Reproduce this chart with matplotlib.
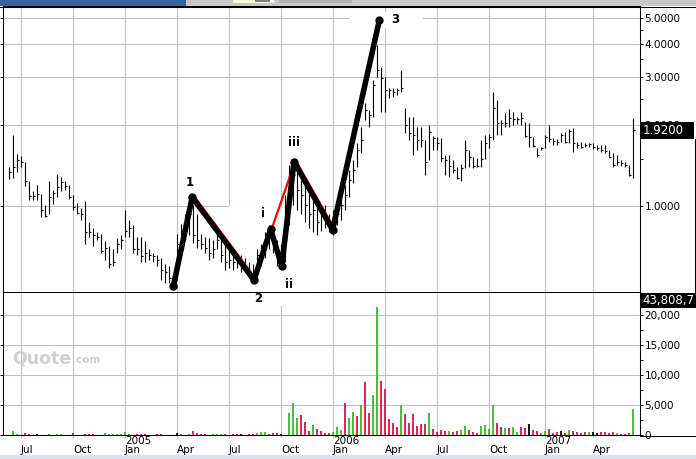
import numpy as np
import matplotlib.pyplot as plt
import matplotlib.transforms as mtransforms
from matplotlib.patches import Rectangle
from matplotlib.lines import Line2D
from matplotlib.ticker import FixedLocator, NullFormatter, FuncFormatter

plt.rcParams["font.family"] = ["DejaVu Sans"]

# weekly bars, mid 2004 .. mid 2007 (one entry per week)
high = [1.40, 1.83, 1.56, 1.53, 1.45, 1.24, 1.14, 1.20, 1.11, 1.01,
        1.24, 1.15, 1.31, 1.28, 1.24, 1.20, 1.10, 1.03, 0.98, 1.04,
        0.87, 0.83, 0.80, 0.79, 0.74, 0.71, 0.69, 0.76, 0.78, 0.97,
        0.89, 0.85, 0.77, 0.77, 0.74, 0.69, 0.67, 0.66, 0.64, 0.61,
        0.60, 0.56, 0.79, 0.86, 0.93, 1.01, 1.01, 0.93, 0.79, 0.77,
        0.76, 0.75, 0.81, 0.79, 0.77, 0.72, 0.69, 0.67, 0.66, 0.64,
        0.62, 0.61, 0.69, 0.72, 0.80, 0.85, 0.83, 0.75, 0.72, 1.10,
        1.42, 1.48, 1.34, 1.25, 1.27, 1.15, 1.10, 1.05, 1.01, 1.01,
        0.93, 0.97, 1.01, 1.10, 1.20, 1.36, 1.48, 1.71, 1.97, 2.41,
        2.27, 2.94, 3.96, 3.28, 3.01, 2.74, 2.74, 2.74, 3.20, 2.31,
        2.14, 2.14, 1.97, 1.97, 1.76, 2.00, 1.82, 1.80, 1.79, 1.55,
        1.55, 1.48, 1.40, 1.43, 1.76, 1.61, 1.52, 1.51, 1.76, 1.83,
        1.85, 2.65, 2.47, 2.09, 2.21, 2.29, 2.23, 2.14, 2.23, 2.05,
        2.03, 1.80, 1.64, 1.65, 1.83, 2.00, 1.79, 1.77, 1.87, 1.88,
        1.93, 1.95, 1.73, 1.73, 1.71, 1.71, 1.71, 1.68, 1.68, 1.68,
        1.61, 1.57, 1.55, 1.48, 1.46, 1.42, 2.12]
low = [1.26, 1.27, 1.34, 1.40, 1.19, 1.05, 1.05, 1.05, 0.91, 0.91,
       0.93, 1.02, 1.08, 1.14, 1.15, 1.06, 0.97, 0.93, 0.89, 0.72,
       0.77, 0.71, 0.75, 0.67, 0.63, 0.59, 0.60, 0.67, 0.69, 0.77,
       0.77, 0.67, 0.66, 0.62, 0.62, 0.63, 0.62, 0.60, 0.53, 0.52,
       0.52, 0.51, 0.53, 0.73, 0.75, 0.78, 0.73, 0.70, 0.69, 0.67,
       0.63, 0.64, 0.69, 0.62, 0.58, 0.59, 0.58, 0.59, 0.57, 0.57,
       0.54, 0.53, 0.57, 0.60, 0.64, 0.69, 0.67, 0.60, 0.59, 0.62,
       0.85, 1.01, 0.97, 0.93, 0.87, 0.83, 0.80, 0.78, 0.81, 0.83,
       0.80, 0.78, 0.85, 0.89, 0.97, 1.08, 1.22, 1.40, 1.57, 2.09,
       1.97, 2.14, 3.01, 2.23, 2.23, 2.52, 2.54, 2.58, 2.65, 1.87,
       1.76, 1.55, 1.61, 1.65, 1.30, 1.48, 1.61, 1.61, 1.46, 1.30,
       1.28, 1.33, 1.26, 1.24, 1.38, 1.40, 1.38, 1.40, 1.40, 1.49,
       1.64, 1.76, 1.83, 1.83, 1.97, 1.97, 2.00, 2.01, 2.00, 1.80,
       1.65, 1.65, 1.52, 1.61, 1.64, 1.73, 1.68, 1.68, 1.73, 1.71,
       1.71, 1.59, 1.64, 1.64, 1.65, 1.65, 1.63, 1.61, 1.59, 1.57,
       1.51, 1.40, 1.42, 1.41, 1.40, 1.29, 1.27]
close = [1.34, 1.39, 1.48, 1.45, 1.24, 1.09, 1.09, 1.11, 0.97, 0.92,
         1.08, 1.12, 1.18, 1.23, 1.19, 1.08, 0.99, 0.94, 0.93, 0.80,
         0.80, 0.78, 0.77, 0.68, 0.70, 0.61, 0.62, 0.72, 0.75, 0.81,
         0.83, 0.69, 0.69, 0.65, 0.67, 0.66, 0.65, 0.63, 0.58, 0.57,
         0.54, 0.53, 0.72, 0.81, 0.85, 0.93, 0.78, 0.75, 0.72, 0.70,
         0.67, 0.69, 0.75, 0.66, 0.62, 0.63, 0.62, 0.62, 0.60, 0.59,
         0.57, 0.57, 0.66, 0.69, 0.75, 0.80, 0.72, 0.64, 0.62, 1.01,
         1.25, 1.30, 1.15, 1.10, 1.01, 0.93, 0.97, 0.87, 0.93, 0.89,
         0.83, 0.85, 0.93, 1.01, 1.10, 1.25, 1.36, 1.61, 1.76, 2.27,
         2.18, 2.81, 3.20, 2.99, 2.69, 2.69, 2.65, 2.69, 2.74, 2.00,
         1.87, 1.83, 1.76, 1.76, 1.46, 1.88, 1.79, 1.71, 1.51, 1.48,
         1.41, 1.36, 1.27, 1.38, 1.61, 1.52, 1.41, 1.41, 1.49, 1.71,
         1.80, 2.31, 2.03, 2.03, 2.03, 2.12, 2.10, 2.10, 2.12, 1.82,
         1.80, 1.67, 1.55, 1.64, 1.80, 1.77, 1.74, 1.73, 1.83, 1.73,
         1.90, 1.71, 1.68, 1.66, 1.68, 1.70, 1.66, 1.64, 1.61, 1.60,
         1.52, 1.42, 1.46, 1.44, 1.42, 1.30, 1.92]
volume = [0, 720, 170, 0, 280, 170, 0, 100, 0, 0,
          170, 0, 170, 200, 0, 0, 280, 0, 0, 170,
          170, 110, 0, 0, 390, 170, 170, 170, 170, 440,
          110, 0, 170, 170, 170, 0, 0, 170, 170, 0,
          0, 0, 280, 170, 0, 170, 720, 330, 170, 170,
          0, 170, 170, 170, 170, 0, 170, 170, 170, 0,
          110, 170, 280, 440, 440, 170, 330, 330, 170, 0,
          3610, 5280, 2830, 3330, 2170, 720, 1670, 1060, 720, 390,
          390, 560, 1390, 830, 5280, 2890, 3890, 3170, 5000, 8900,
          3720, 6670, 21400, 9060, 7720, 2720, 2060, 1390, 5000, 3500,
          2060, 3500, 1500, 1830, 1830, 3720, 1000, 500, 830, 670,
          670, 500, 670, 830, 1500, 830, 500, 330, 1500, 1670,
          1060, 5000, 2000, 1390, 1170, 1170, 1390, 500, 1390, 1170,
          1830, 830, 720, 390, 720, 1000, 390, 500, 670, 390,
          830, 670, 500, 390, 500, 500, 500, 330, 500, 500,
          390, 500, 330, 170, 170, 330, 4330]
# g = up week, r = down week, k = unchanged
vol_dir = ("kggkrrkkkk" "gkggkkrkkr" "rrkkgggggg" "gkrrrkkrrk" "kkkrkgrrrr"
           "kgggrkrrkk" "rrgggrrrkk" "gggrrrgrrr" "rgggrggrgr" "rggrrrrrgr"
           "rrrrrgrrrr" "grrggrrrgg" "ggrrgrggrr" "krrggrrrkr" "grrrrgkkrr"
           "rrgrrrg")

tick_pos = [3, 16, 29, 42, 55, 68, 81, 94, 107, 120, 134, 146]
tick_labels = ["\nJul", "\nOct", "2005\nJan", "\nApr", "\nJul", "\nOct",
               "2006\nJan", "\nApr", "\nJul", "\nOct", "2007\nJan", "\nApr"]

price_ticks = [1, 2, 3, 4, 5]
price_minor = [1.5, 2.5, 3.5, 4.5]
vol_ticks = [0, 5000, 10000, 15000, 20000]
vol_minor = [2500, 7500, 12500, 17500]

# elliott wave count drawn on top
wave_x = [41.1, 45.8, 61.25, 65.4, 68.2, 71.25, 80.9, 92.6]
wave_y = [0.505, 1.077, 0.531, 0.819, 0.599, 1.46, 0.815, 4.90]
wave_names = ["", "1", "2", "i", "ii", "iii", "", "3"]
wave_off = [None, (-2, 15), (4, -18), (-8, 16), (7, -19), (0, 19), None, (16, 0)]
red_path = [0, 1, 2, 3, 5, 6, 7]

last_price = 1.92
last_volume = "43,808,7"

W, H = 696, 459
fig = plt.figure(figsize=(W / 100, H / 100), dpi=100)


def fig_rect(x0, y0, x1, y1, color, z=10, ax=None):
    r = Rectangle((x0 / W, 1 - y1 / H), (x1 - x0) / W, (y1 - y0) / H,
                  transform=fig.transFigure, facecolor=color, edgecolor="none", zorder=z)
    if ax is None:
        fig.patches.append(r)
    else:
        ax.add_patch(r)


def fig_line(xs, ys, color="black", lw=0.75, z=10):
    fig.lines.append(Line2D([x / W for x in xs], [1 - y / H for y in ys],
                            transform=fig.transFigure, color=color, lw=lw, zorder=z))


ax = fig.add_axes([3 / W, 1 - 292 / H, 637 / W, 286 / H])
axv = fig.add_axes([3 / W, 1 - 435 / H, 637 / W, 143 / H], sharex=ax)
ax.set_zorder(2)
axv.set_zorder(1)

x = np.arange(len(close))
grid_kw = dict(color="#c0c0c0", lw=0.75)

# price panel
ax.vlines(x, low, high, color="black", lw=0.8, zorder=3)
ax.hlines(close, x, x + 0.5, color="black", lw=0.8, zorder=3)
ax.set_yscale("log")
ax.set_ylim(0.4795, 5.52)
ax.set_xlim(-1.5, 157.75)
ax.yaxis.set_major_locator(FixedLocator(price_ticks))
ax.yaxis.set_major_formatter(FuncFormatter(lambda v, p: f"{v:.4f}"))
ax.yaxis.set_minor_locator(FixedLocator(price_minor))
ax.yaxis.set_minor_formatter(NullFormatter())
ax.xaxis.set_major_locator(FixedLocator(tick_pos))
ax.tick_params(axis="y", which="major", left=True, right=True, labelleft=False,
               labelright=True, direction="out", length=2.5, width=0.7, pad=0.8, labelsize=7.5)
ax.tick_params(axis="y", which="minor", left=False, right=True, direction="out",
               length=2, width=0.7)
ax.tick_params(axis="x", which="both", bottom=False, top=False, labelbottom=False)
ax.set_axisbelow(True)
ax.grid(True, which="major", **grid_kw)
for s in ax.spines.values():
    s.set_linewidth(0.75)

# white boxes behind the wave labels
fig_rect(350, 12, 423, 28, "white", z=1, ax=ax)
fig_rect(229, 206, 320, 292, "white", z=1, ax=ax)
fig_rect(253, 288, 315, 293, "white", z=2.6, ax=ax)

red_trans = mtransforms.offset_copy(ax.transData, fig=fig, x=1.5, y=1.5, units="dots")
ax.plot([wave_x[i] for i in red_path], [wave_y[i] for i in red_path], color="#ff0000",
        lw=1.6, transform=red_trans, zorder=4)
ax.plot(wave_x, wave_y, color="black", lw=4.0, solid_joinstyle="round",
        solid_capstyle="round", marker="o", ms=5, zorder=5)
for wx, wy, name, off in zip(wave_x, wave_y, wave_names, wave_off):
    if name:
        ax.annotate(name, (wx, wy), xytext=off, textcoords="offset pixels",
                    ha="center", va="center", fontsize=8.5, fontweight="bold",
                    annotation_clip=False, zorder=7)

# volume panel
cols = {"g": "#33bb33", "r": "#dd1144", "k": "black"}
axv.vlines(x, 0, volume, colors=[cols[c] for c in vol_dir], lw=1.3, zorder=3)
axv.set_ylim(0, 23833)
axv.yaxis.set_major_locator(FixedLocator(vol_ticks))
axv.yaxis.set_major_formatter(FuncFormatter(lambda v, p: f"{v:,.0f}"))
axv.yaxis.set_minor_locator(FixedLocator(vol_minor))
axv.tick_params(axis="y", which="major", left=True, right=True, labelleft=False,
                labelright=True, direction="out", length=2.5, width=0.7, pad=0.8, labelsize=7.5)
axv.tick_params(axis="y", which="minor", left=False, right=True, direction="out",
                length=2, width=0.7)
axv.set_xticks(tick_pos)
axv.set_xticklabels(tick_labels, fontsize=7.5, linespacing=0.92)
for lab in axv.get_xticklabels():
    lab.set_horizontalalignment("left")
axv.tick_params(axis="x", which="major", direction="out", length=2.0, color="#c0c0c0", pad=-1.2)
axv.set_axisbelow(True)
axv.grid(True, which="major", **grid_kw)
axv.spines["top"].set_visible(False)
for s in axv.spines.values():
    s.set_linewidth(0.75)
fig_rect(253, 292, 315, 306, "white", z=1, ax=axv)

axv.text(12 / W, 1 - 363 / H, "Quote", transform=fig.transFigure, fontsize=12.5,
         fontweight="bold", color="#cfcfcf", va="baseline", ha="left", zorder=1)
axv.text(72 / W, 1 - 363 / H, ".com", transform=fig.transFigure, fontsize=7.5,
         fontweight="bold", color="#cfcfcf", va="baseline", ha="left", zorder=1)

# frame pieces and window chrome
fig_rect(0, 0, 186, 6, "#346699")
fig_rect(186, 0, 696, 6, "#c8c8c8")
fig_rect(233, 0, 274, 3, "#ffffe0")
fig_rect(255, 0, 270, 1.5, "#808080")
fig_rect(279, 0, 352, 3, "#b0b0b0")
fig_line([0, 696], [6.5, 6.5])
fig_line([640, 696], [292.5, 292.5])
fig_line([640, 696], [435.5, 435.5])
fig_line([694.5, 694.5], [139, 292.5])
fig_line([0, 696], [454.5, 454.5])
fig_rect(0, 455, 696, 459, "#dce2f4")

fig_rect(640, 122, 694, 139, "black")
fig.text(643 / W, 1 - 130.5 / H, f"{last_price:.4f}", color="white", fontsize=8.5,
         va="center", ha="left", zorder=11)
fig_rect(640, 293, 696, 308, "black")
fig.text(642 / W, 1 - 300.5 / H, last_volume, color="white", fontsize=8.5,
         va="center", ha="left", zorder=11)

fig.savefig("out.png", dpi=100)
